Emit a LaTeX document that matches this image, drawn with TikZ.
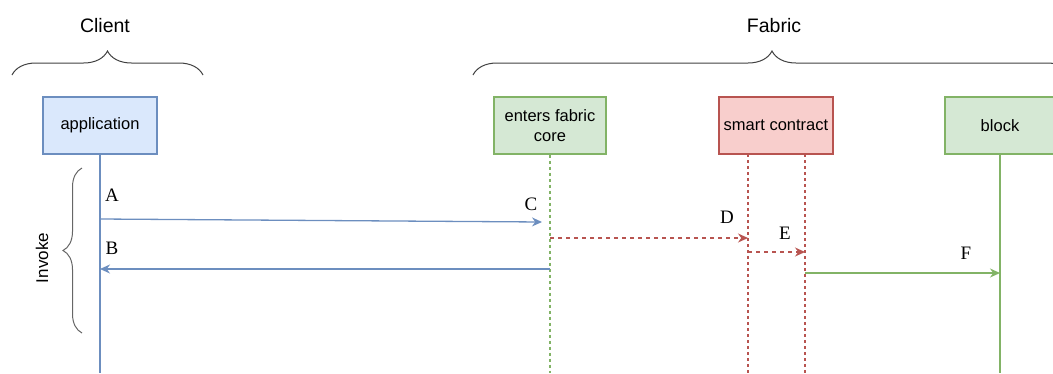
\documentclass[tikz,border=0pt]{standalone}
\usepackage{fontspec}
\setmainfont{Liberation Sans}
\newfontfamily\letterfont{Liberation Serif}
\usetikzlibrary{arrows.meta,decorations.pathreplacing}
\definecolor{bluefill}{HTML}{DAE8FC}
\definecolor{blueline}{HTML}{6C8EBF}
\definecolor{greenfill}{HTML}{D5E8D4}
\definecolor{greenline}{HTML}{82B366}
\definecolor{redfill}{HTML}{F8CECC}
\definecolor{redline}{HTML}{B85450}
\begin{document}
\begin{tikzpicture}[x=1pt,y=-1pt,
    actor/.style={draw, line width=1.1pt, minimum width=114pt, minimum height=57pt,
      inner sep=2pt, align=center, font=\fontsize{16.5}{20}\selectfont},
    grouplabel/.style={font=\fontsize{19.5}{22}\selectfont},
    curly/.style={decorate, decoration={brace, amplitude=#1}, draw=black!75, line width=1pt},
    msg/.style={-{Stealth[length=10pt,width=9pt]}, line width=1.3pt},
    letter/.style={font=\letterfont\fontsize{19}{22}\selectfont},
    lifedash/.style={line width=1.3pt, dash pattern=on 3pt off 3pt}]
  \useasboundingbox (0,0) rectangle (1053,373);
  \clip (0,0) rectangle (1053,373);

  % Groups
  \node[grouplabel] (client) at (105,26) {Client};
  \node[grouplabel] (fabric) at (774,26) {Fabric};
  \coordinate (client l) at (12,75);
  \coordinate (client r) at (203,75);
  \coordinate (fabric l) at (473,75);
  \coordinate (fabric r) at (1071,75);
  \draw[curly=24pt] (client l) -- (client r);
  \draw[curly=24pt] (fabric l) -- (fabric r);

  % Participants
  \node[actor, fill=bluefill, draw=blueline] (app) at (100,125.5) {application};
  \node[actor, fill=greenfill, draw=greenline, minimum width=112pt] (core) at (550,125.5) {enters fabric\\core};
  \node[actor, fill=redfill, draw=redline] (sc) at (776,125.5) {smart contract};
  \node[actor, fill=greenfill, draw=greenline, minimum width=110pt] (block) at (1000,125.5) {block};

  % Lifelines
  \coordinate (app end) at (app.south |- 0,373);
  \coordinate (core end) at (core.south |- 0,373);
  \coordinate (sc1 top) at (748,154);
  \coordinate (sc2 top) at (805,154);
  \coordinate (sc1 end) at (748,373);
  \coordinate (sc2 end) at (805,373);
  \coordinate (block end) at (block.south |- 0,373);
  \draw[blueline, line width=1.3pt] (app.south) -- (app end);
  \draw[greenline, lifedash] (core.south) -- (core end);
  \draw[redline, lifedash] (sc1 top) -- (sc1 end);
  \draw[redline, lifedash] (sc2 top) -- (sc2 end);
  \draw[greenline, line width=1.3pt] (block.south) -- (block end);

  % Invoke
  \coordinate (inv bottom) at (82,333);
  \coordinate (inv top) at (82,168);
  \draw[curly=19pt, draw=black!60] (inv bottom) -- (inv top);
  \node[grouplabel, rotate=90, font=\fontsize{17}{20}\selectfont] (invoke) at (42,258) {Invoke};

  % Messages
  \coordinate (a from) at (100,219);
  \coordinate (a to) at (542,222);
  \coordinate (b from) at (550,269);
  \coordinate (b to) at (100,269);
  \coordinate (d from) at (550,238);
  \coordinate (d to) at (748,238);
  \coordinate (e from) at (748,252);
  \coordinate (e to) at (805,252);
  \coordinate (f from) at (805,273);
  \coordinate (f to) at (1000,273);
  \draw[msg, blueline] (a from) -- (a to);
  \draw[msg, blueline] (b from) -- (b to);
  \draw[msg, redline, dash pattern=on 4pt off 4pt] (d from) -- (d to);
  \draw[msg, redline, dash pattern=on 4pt off 4pt] (e from) -- (e to);
  \draw[msg, greenline] (f from) -- (f to);

  \node[letter] (lA) at (112,195) {A};
  \node[letter] (lB) at (112,248) {B};
  \node[letter] (lC) at (531,204) {C};
  \node[letter] (lD) at (727,217) {D};
  \node[letter] (lE) at (785,233) {E};
  \node[letter] (lF) at (966,253) {F};
\end{tikzpicture}
\end{document}
